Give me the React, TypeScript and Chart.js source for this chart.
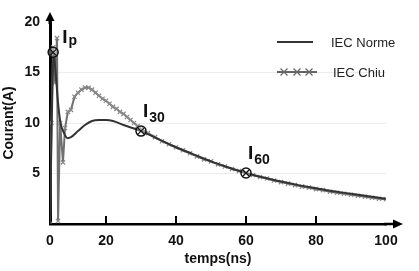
import React, { useEffect, useRef } from "react";
import { Chart, registerables } from "chart.js";

Chart.register(...registerables);

// IEC Norme waveform (time in axis units, current in A)
const normeT = [4, 4.5, 5, 5.6, 6.3, 7, 8, 9, 10, 12, 14, 16, 18, 20, 22, 25, 30, 35, 40, 45, 50, 55, 60, 65, 70, 75, 80, 85, 90, 95, 100];
const normeI = [0, 10, 17, 15, 12, 10, 9, 8.5, 8.6, 9.2, 9.8, 10.2, 10.3, 10.3, 10.2, 9.8, 9.2, 8.4, 7.6, 6.9, 6.2, 5.6, 5.05, 4.6, 4.2, 3.85, 3.55, 3.25, 3.0, 2.75, 2.5];

// IEC Chiu waveform
const chiuT = [4, 4.4, 4.9, 5.4, 6.0, 6.3, 6.9, 7.7, 8.3, 9.1, 10, 11, 12, 13, 14, 15, 16, 17, 18, 19, 20, 21, 22, 23, 24, 25, 26, 27, 28, 29, 30, 32, 34, 36, 38, 40, 42, 44, 46, 48, 50, 52, 54, 56, 58, 60, 62, 64, 66, 68, 70, 72, 74, 76, 78, 80, 82, 84, 86, 88, 90, 92, 94, 96, 98, 100];
const chiuI = [0, 10, 17.5, 14, 18.4, 0.3, 10, 6.1, 9.5, 11.1, 11.3, 12.6, 13.0, 13.3, 13.5, 13.5, 13.3, 13.0, 12.7, 12.4, 12.2, 11.9, 11.6, 11.4, 11.1, 10.9, 10.6, 10.3, 10.0, 9.7, 9.4, 9.0, 8.6, 8.2, 7.9, 7.6, 7.3, 7.0, 6.7, 6.4, 6.2, 5.9, 5.7, 5.45, 5.25, 5.05, 4.85, 4.65, 4.5, 4.3, 4.15, 4.0, 3.85, 3.7, 3.6, 3.45, 3.35, 3.2, 3.1, 3.0, 2.9, 2.8, 2.7, 2.6, 2.5, 2.45];

// Axis ticks
const xTickValues = [4, 20, 40, 60, 80, 100];
const xTickLabels = ["0", "20", "40", "60", "80", "100"];
const xInnerTicks = [20, 40, 60, 80];

// Marked points
const markT = [4.9, 30, 60];
const markI = [17, 9.2, 5.05];
const markSub = ["p", "30", "60"];

const seriesNames = ["IEC Norme", "IEC Chiu"];

const FONT = "'Liberation Sans', Arial, sans-serif";

function drawCrossMark(ctx: CanvasRenderingContext2D, x: number, y: number, r: number) {
  ctx.beginPath();
  ctx.moveTo(x - r, y - r);
  ctx.lineTo(x + r, y + r);
  ctx.moveTo(x - r, y + r);
  ctx.lineTo(x + r, y - r);
  ctx.stroke();
}

const decorPlugin = {
  id: "decor",
  afterDraw(chart: any) {
    const { ctx, chartArea, scales } = chart;
    const xs = scales.x;
    const ys = scales.y;
    ctx.save();
    // inner ticks on x axis
    ctx.strokeStyle = "#000";
    ctx.lineWidth = 2;
    xInnerTicks.forEach((v) => {
      const px = Math.round(xs.getPixelForValue(v));
      ctx.beginPath();
      ctx.moveTo(px, chartArea.bottom);
      ctx.lineTo(px, chartArea.bottom - 8);
      ctx.stroke();
    });
    // y axis arrow
    const ax = chartArea.left;
    ctx.lineWidth = 3;
    ctx.beginPath();
    ctx.moveTo(ax, chartArea.top + 2);
    ctx.lineTo(ax, chartArea.top - 4);
    ctx.stroke();
    ctx.fillStyle = "#000";
    ctx.beginPath();
    ctx.moveTo(ax, chartArea.top - 10);
    ctx.lineTo(ax - 4.5, chartArea.top - 1);
    ctx.lineTo(ax + 4.5, chartArea.top - 1);
    ctx.closePath();
    ctx.fill();
    // x axis arrow
    const ay = chartArea.bottom;
    ctx.lineWidth = 2.5;
    ctx.beginPath();
    ctx.moveTo(chartArea.right - 2, ay);
    ctx.lineTo(chartArea.right + 8, ay);
    ctx.stroke();
    ctx.beginPath();
    ctx.moveTo(chartArea.right + 17, ay);
    ctx.lineTo(chartArea.right + 7, ay - 4.5);
    ctx.lineTo(chartArea.right + 7, ay + 4.5);
    ctx.closePath();
    ctx.fill();

    // marked points
    markT.forEach((t, i) => {
      const px = xs.getPixelForValue(t);
      const py = ys.getPixelForValue(markI[i]);
      ctx.lineWidth = 1.5;
      ctx.strokeStyle = "#111";
      ctx.fillStyle = "rgba(255,255,255,0.35)";
      ctx.beginPath();
      ctx.arc(px, py, 5, 0, Math.PI * 2);
      ctx.fill();
      ctx.stroke();
      ctx.lineWidth = 1.2;
      drawCrossMark(ctx, px, py, 3);
      // label
      ctx.fillStyle = "#111";
      ctx.textBaseline = "alphabetic";
      ctx.textAlign = "left";
      let lx: number, ly: number;
      if (i === 0) { lx = px + 9; ly = py - 9; }
      else { lx = px + 2; ly = py - 14; }
      ctx.font = "bold 19px " + FONT;
      ctx.fillText("I", lx, ly);
      const w = ctx.measureText("I").width;
      ctx.font = "bold 14px " + FONT;
      ctx.fillText(markSub[i], lx + w + 1, ly + (i === 0 ? 2 : 5));
    });

    // legend
    const ds = chart.data.datasets;
    ctx.font = "13px " + FONT;
    ctx.textBaseline = "middle";
    ctx.fillStyle = "#222";
    // Norme
    ctx.strokeStyle = ds[0].borderColor;
    ctx.lineWidth = 2;
    ctx.beginPath();
    ctx.moveTo(277, 42);
    ctx.lineTo(313, 42);
    ctx.stroke();
    ctx.fillText(seriesNames[0], 331, 43);
    // Chiu
    ctx.strokeStyle = "#333";
    ctx.lineWidth = 1.5;
    ctx.beginPath();
    ctx.moveTo(277, 72);
    ctx.lineTo(317, 72);
    ctx.stroke();
    ctx.strokeStyle = "#666";
    ctx.lineWidth = 1.2;
    [284, 297, 309].forEach((mx) => drawCrossMark(ctx, mx, 72, 3.5));
    ctx.fillText(seriesNames[1], 333, 73);
    ctx.restore();
  },
};

export default function App() {
  const ref = useRef<HTMLCanvasElement | null>(null);
  useEffect(() => {
    document.body.style.margin = "0";
    document.body.style.background = "#fff";
    const canvas = ref.current;
    if (!canvas) return;
    const chart = new Chart(canvas, {
      type: "line",
      data: {
        datasets: [
          {
            label: seriesNames[0],
            data: normeT.map((t, i) => ({ x: t, y: normeI[i] })),
            borderColor: "#333333",
            borderWidth: 2,
            pointRadius: 0,
            cubicInterpolationMode: "monotone",
            order: 1,
          },
          {
            label: seriesNames[1],
            data: chiuT.map((t, i) => ({ x: t, y: chiuI[i] })),
            borderColor: "#707070",
            borderWidth: 2,
            pointStyle: "crossRot",
            pointRadius: 3,
            pointBorderColor: "#8a8a8a",
            pointBorderWidth: 1.2,
            tension: 0,
            order: 2,
          },
        ],
      },
      options: {
        animation: false,
        responsive: false,
        maintainAspectRatio: false,
        layout: { padding: { top: 22, right: 33, left: 0, bottom: 0 } },
        plugins: { legend: { display: false }, tooltip: { enabled: false } },
        scales: {
          x: {
            type: "linear",
            min: 4,
            max: 100,
            afterBuildTicks: (scale: any) => {
              scale.ticks = xTickValues.map((v) => ({ value: v }));
            },
            afterFit: (scale: any) => {
              scale.height = 47;
            },
            ticks: {
              autoSkip: false,
              maxRotation: 0,
              padding: 9,
              color: "#111",
              font: { family: FONT, size: 14, weight: "bold" },
              callback: (v: any) => {
                const idx = xTickValues.indexOf(Number(v));
                return idx >= 0 ? xTickLabels[idx] : "";
              },
            },
            grid: { display: true, color: "rgba(0,0,0,0)", drawTicks: false },
            border: { display: true, color: "#000", width: 2.5 },
            title: {
              display: true,
              text: "temps(ns)",
              color: "#111",
              font: { family: FONT, size: 14, weight: "bold" },
              padding: { top: 0, bottom: 3 },
            },
          },
          y: {
            min: 0,
            max: 20,
            afterFit: (scale: any) => {
              scale.width = 50;
            },
            ticks: {
              stepSize: 5,
              padding: 10,
              color: "#111",
              font: { family: FONT, size: 14, weight: "bold" },
              callback: (v: any) => (Number(v) === 0 ? "" : String(v)),
            },
            grid: {
              drawTicks: false,
              color: (c: any) => (c.tick && (c.tick.value === 0 || c.tick.value === 20) ? "rgba(0,0,0,0)" : "#ececec"),
              lineWidth: 1,
            },
            border: { display: true, color: "#000", width: 3 },
            title: {
              display: true,
              text: "Courant(A)",
              color: "#111",
              font: { family: FONT, size: 14, weight: "bold" },
              padding: { top: 1, bottom: 0 },
            },
          },
        },
      },
      plugins: [decorPlugin],
    } as any);
    return () => chart.destroy();
  }, []);
  return (
    <div style={{ position: "absolute", left: 0, top: 0, width: 419, height: 271, background: "#fff" }}>
      <canvas ref={ref} width={419} height={271} style={{ display: "block", width: 419, height: 271 }} />
    </div>
  );
}
